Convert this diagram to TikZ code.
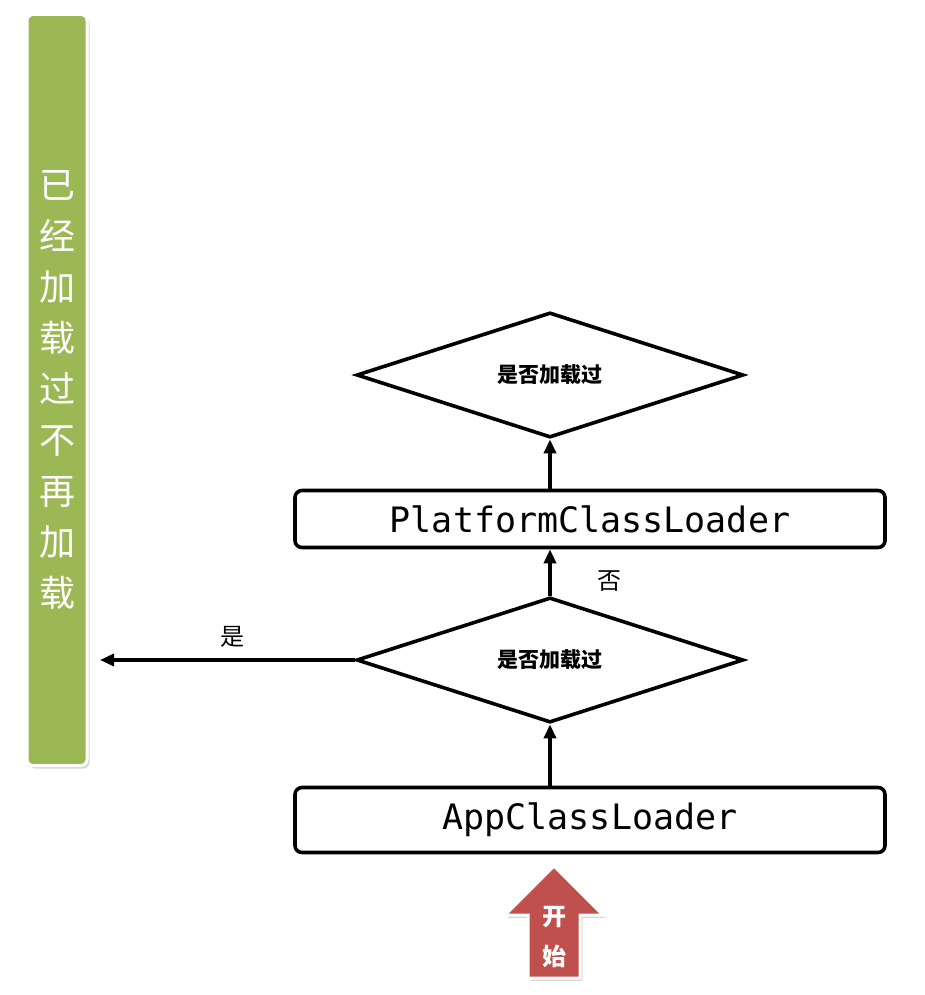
\documentclass[tikz,border=0pt]{standalone}
\usepackage{fontspec}
\newfontfamily\cjk{Noto Sans CJK SC}
\setmonofont{DejaVu Sans Mono}
\usetikzlibrary{shapes.geometric, arrows.meta, positioning, shadows}

\definecolor{barGreen}{HTML}{9BB855}
\definecolor{startRed}{HTML}{C0504D}

\tikzset{
  loader/.style={draw, line width=3.6pt, rounded corners=7pt, minimum width=590pt,
    inner sep=0pt, font=\ttfamily\fontsize{35}{35}\selectfont},
  check/.style={draw, diamond, line width=3.6pt, minimum width=387pt, minimum height=122pt,
    inner sep=0pt, font=\cjk\bfseries\fontsize{21}{21}\selectfont},
  flow/.style={line width=3.6pt, -{Triangle[length=14pt,width=12pt]}},
  lbl/.style={font=\cjk\fontsize{24}{24}\selectfont},
}

\begin{document}
\begin{tikzpicture}[x=1pt,y=-1pt]
            \fill [white] (0,0) rectangle (925,995);
            \useasboundingbox (0,0) rectangle (925,995);
            % left bar
            \node [fill=barGreen, draw=white, line width=3pt, rounded corners=6pt,
              minimum width=60pt, minimum height=751pt, inner sep=0pt, text=white,
              align=center, font=\cjk\fontsize{36}{51}\selectfont,
              drop shadow={opacity=0.3, shadow xshift=2.5pt, shadow yshift=-3pt}]
              (done) at (57,390) {已\\经\\加\\载\\过\\不\\再\\加\\载};
            % loaders and checks
            \node [check] (dtop) at (550,375) {是否加载过};
            \node [loader, minimum height=57pt] (platform) at (590,519) {PlatformClassLoader};
            \node [check] (dmid) at (550,660) {是否加载过};
            \node [loader, minimum height=65pt] (app) at (590,820) {AppClassLoader};
            \coordinate (yesend) at (100,660);
            % connectors
            \draw [flow] (app.north -| dmid.south) -- (dmid.south);
            \draw [flow] (dmid.north) -- (dmid.north |- platform.south);
            \draw [flow] (platform.north -| dtop.south) -- (dtop.south);
            \draw [flow] (dmid.west) -- (yesend);
            \node [lbl] (no) at (609,581) {否};
            \node [lbl] (yes) at (232,637) {是};
            % start arrow
            \filldraw [fill=startRed, draw=white, line width=3pt,
              drop shadow={opacity=0.3, shadow xshift=2.5pt, shadow yshift=-3pt}]
              (528,978) -- (580,978) -- (580,915) -- (603,915) -- (554,866)
              -- (505,915) -- (528,915) -- cycle;
            \node [text=white, font=\cjk\bfseries\fontsize{24}{24}\selectfont] (kai) at (554,917) {开};
            \node [text=white, font=\cjk\bfseries\fontsize{24}{24}\selectfont] (shi) at (554,956) {始};
\end{tikzpicture}
\end{document}
